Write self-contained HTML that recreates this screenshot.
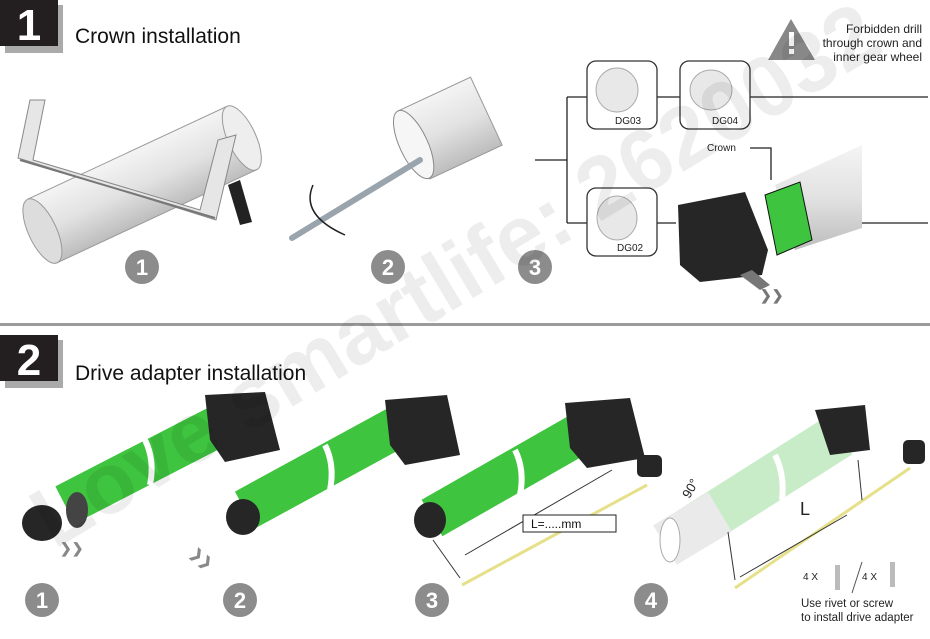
<!DOCTYPE html>
<html><head><meta charset="utf-8"><style>
html,body{margin:0;padding:0;background:#fff;width:930px;height:639px;overflow:hidden}
svg{display:block}
text{font-family:"Liberation Sans",sans-serif}
</style></head><body>
<svg width="930" height="639" viewBox="0 0 930 639" xmlns="http://www.w3.org/2000/svg">
<defs>
<linearGradient id="tube" x1="0" y1="0" x2="0" y2="1"><stop offset="0" stop-color="#f4f4f4"/><stop offset="0.5" stop-color="#e2e2e2"/><stop offset="1" stop-color="#bdbdbd"/></linearGradient>
</defs>
<!-- header 1 -->
<rect x="5" y="5" width="58" height="48" fill="#aaa"/>
<rect x="0" y="0" width="58" height="46" fill="#231f20"/>
<text x="29" y="40" font-size="44" font-weight="bold" fill="#fff" text-anchor="middle">1</text>
<text x="75" y="43" font-size="21" fill="#111">Crown installation</text>

<!-- image 1: saw + tube -->
<g transform="rotate(-25 140 180)">
<rect x="30" y="150" width="220" height="70" fill="url(#tube)" stroke="#999"/>
<ellipse cx="30" cy="185" rx="14" ry="35" fill="#ddd" stroke="#999"/>
<ellipse cx="250" cy="185" rx="14" ry="35" fill="#eee" stroke="#999"/>
</g>
<path d="M18 158 L30 100 L45 100 L33 160 L200 210 L218 140 L236 135 L216 220 Z" fill="#e6e6e6" stroke="#888"/>
<path d="M228 185 L240 225 L252 222 L240 180 Z" fill="#222"/>
<path d="M20 160 L215 218" stroke="#777" stroke-width="2"/>

<!-- image 2: file + tube end -->
<g transform="rotate(-25 440 130)">
<rect x="410" y="95" width="80" height="75" fill="url(#tube)" stroke="#999"/>
<ellipse cx="410" cy="132" rx="14" ry="37" fill="#f6f6f6" stroke="#888"/>
</g>
<line x1="292" y1="238" x2="420" y2="160" stroke="#9aa4ac" stroke-width="6" stroke-linecap="round"/>
<path d="M313 185 Q 300 215 345 235" fill="none" stroke="#222" stroke-width="1.5"/>

<!-- number circles sec1 -->
<g font-size="22" font-weight="bold" fill="#fff" text-anchor="middle">
<circle cx="142" cy="267" r="17" fill="#8c8c8c"/><text x="142" y="275">1</text>
<circle cx="388" cy="267" r="17" fill="#8c8c8c"/><text x="388" y="275">2</text>
<circle cx="535" cy="267" r="17" fill="#8c8c8c"/><text x="535" y="275">3</text>
</g>

<!-- tree -->
<g stroke="#222" stroke-width="1.3" fill="none">
<path d="M535 160 H567 M567 97 V223 M567 97 H587 M657 97 H680 M750 97 H928 M567 223 H587 M657 223 H676 M828 223 H928 M750 148 H771 V180"/>
</g>
<g fill="#fff" stroke="#333" stroke-width="1.3">
<rect x="587" y="61" width="70" height="68" rx="9"/>
<rect x="680" y="61" width="70" height="68" rx="9"/>
<rect x="587" y="188" width="70" height="68" rx="9"/>
</g>
<g fill="#e8e8e8" stroke="#aaa">
<ellipse cx="617" cy="90" rx="21" ry="22"/><ellipse cx="711" cy="90" rx="21" ry="20"/><ellipse cx="617" cy="218" rx="20" ry="22"/>
</g>
<g font-size="10" fill="#222">
<text x="615" y="124">DG03</text><text x="712" y="124">DG04</text><text x="617" y="251">DG02</text>
<text x="707" y="151">Crown</text>
</g>
<polygon points="791,19 768,60 815,60" fill="#888"/>
<rect x="789" y="32" width="5" height="14" fill="#fff"/><rect x="789" y="49" width="5" height="5" fill="#fff"/>
<g font-size="12" fill="#222" text-anchor="end">
<text x="922" y="33">Forbidden drill</text><text x="922" y="47">through crown and</text><text x="922" y="61">inner gear wheel</text>
</g>
<!-- motor sec1 -->
<polygon points="775,185 862,145 862,228 795,250" fill="url(#tube)"/>
<polygon points="765,195 800,182 812,240 777,255" fill="#3ec43e" stroke="#111"/>
<polygon points="678,205 745,192 768,250 762,275 700,282 680,265" fill="#262626"/>
<polygon points="740,275 760,290 770,285 752,270" fill="#777"/>
<text x="760" y="300" font-size="14" font-weight="bold" fill="#777">❯❯</text>

<rect x="0" y="323" width="930" height="3" fill="#9b9b9b"/>

<!-- header 2 -->
<rect x="5" y="340" width="58" height="48" fill="#aaa"/>
<rect x="0" y="335" width="58" height="46" fill="#231f20"/>
<text x="29" y="375" font-size="44" font-weight="bold" fill="#fff" text-anchor="middle">2</text>
<text x="75" y="380" font-size="21" fill="#111">Drive adapter installation</text>

<!-- motors sec2 -->
<g stroke-linecap="butt">
<line x1="65" y1="505" x2="230" y2="420" stroke="#3ec43e" stroke-width="42"/>
<line x1="245" y1="510" x2="410" y2="420" stroke="#3ec43e" stroke-width="42"/>
<line x1="432" y1="518" x2="595" y2="425" stroke="#3ec43e" stroke-width="42"/>
<line x1="690" y1="530" x2="840" y2="435" stroke="#c8ecc8" stroke-width="46"/>
<line x1="665" y1="545" x2="720" y2="512" stroke="#eaeaea" stroke-width="46"/>
</g>
<g stroke="#fff" stroke-width="6" fill="none">
<path d="M145 440 Q 155 460 150 485"/><path d="M325 445 Q 335 465 330 490"/><path d="M515 450 Q 525 470 520 495"/><path d="M775 455 Q 785 475 782 500"/>
</g>
<g fill="#262626">
<polygon points="205,395 265,392 280,450 225,462 210,440"/>
<polygon points="385,400 447,395 460,455 405,465 390,445"/>
<polygon points="565,403 630,398 645,458 587,468 570,448"/>
<polygon points="815,410 865,405 870,450 830,455"/>
<ellipse cx="42" cy="523" rx="20" ry="18"/>
<ellipse cx="243" cy="517" rx="17" ry="18"/>
<ellipse cx="430" cy="520" rx="16" ry="18"/>
<rect x="637" y="455" width="25" height="22" rx="5"/>
<rect x="903" y="440" width="22" height="24" rx="5"/>
</g>
<ellipse cx="77" cy="510" rx="11" ry="18" fill="#444"/>
<ellipse cx="670" cy="540" rx="10" ry="22" fill="#fff" stroke="#aaa"/>
<g font-size="14" font-weight="bold" fill="#888"><text x="60" y="553">❯❯</text><text x="195" y="560" transform="rotate(40 200 550)">❯❯</text></g>
<!-- tapes and dims -->
<g stroke-width="3" stroke="#e6e08a"><line x1="462" y1="585" x2="647" y2="485"/><line x1="735" y1="588" x2="910" y2="468"/></g>
<g stroke="#333" stroke-width="1" fill="none">
<line x1="465" y1="555" x2="612" y2="470"/><line x1="433" y1="540" x2="460" y2="578"/>
<line x1="740" y1="577" x2="847" y2="515"/><line x1="728" y1="532" x2="735" y2="580"/><line x1="858" y1="460" x2="862" y2="500"/>
</g>
<rect x="523" y="515" width="93" height="17" fill="#fff" stroke="#222"/>
<text x="531" y="528" font-size="12" fill="#111">L=.....mm</text>
<text x="800" y="515" font-size="18" fill="#222">L</text>
<text x="680" y="493" font-size="13" fill="#222" transform="rotate(-60 690 488)">90°</text>
<g font-size="10" fill="#222"><text x="803" y="580">4 X</text><text x="862" y="580">4 X</text></g>
<line x1="852" y1="593" x2="862" y2="562" stroke="#555"/>
<rect x="835" y="565" width="5" height="25" fill="#bbb"/><rect x="890" y="562" width="5" height="25" fill="#bbb"/>
<g font-size="11.5" fill="#222"><text x="801" y="607">Use rivet or screw</text><text x="801" y="621">to install drive adapter</text></g>

<g font-size="22" font-weight="bold" fill="#fff" text-anchor="middle">
<circle cx="42" cy="600" r="17" fill="#8c8c8c"/><text x="42" y="608">1</text>
<circle cx="240" cy="600" r="17" fill="#8c8c8c"/><text x="240" y="608">2</text>
<circle cx="432" cy="600" r="17" fill="#8c8c8c"/><text x="432" y="608">3</text>
<circle cx="651" cy="600" r="17" fill="#8c8c8c"/><text x="651" y="608">4</text>
</g>

<!-- watermark -->
<text x="470" y="300" font-size="86" font-weight="bold" fill="#000" fill-opacity="0.07" text-anchor="middle" transform="rotate(-31 470 300)">Love smartlife: 2620032</text>
</svg>
</body></html>
